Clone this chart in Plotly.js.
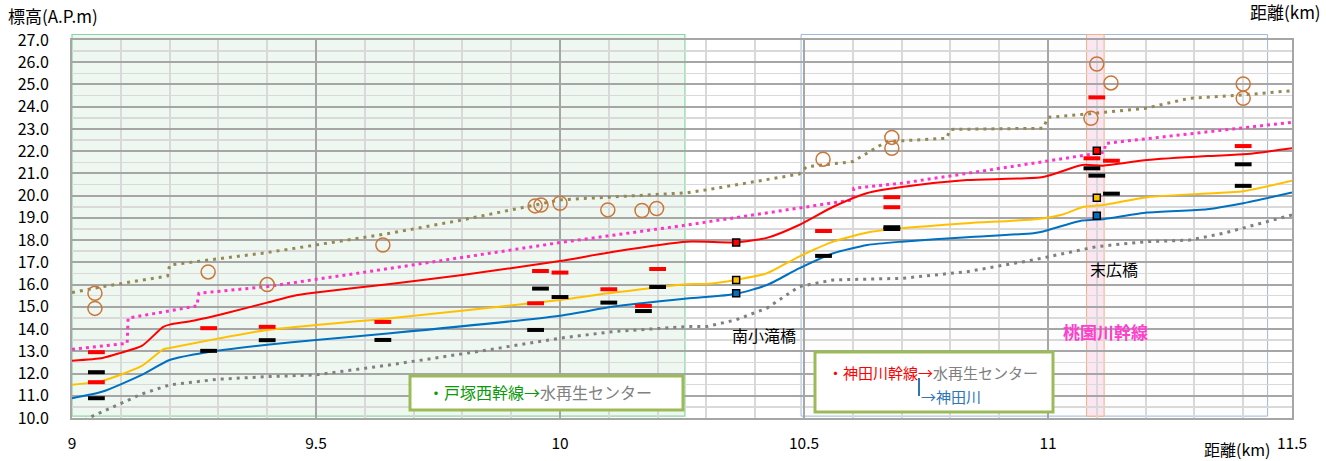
<!DOCTYPE html>
<html>
<head>
<meta charset="utf-8">
<script src="https://cdn.plot.ly/plotly-3.0.1.min.js"></script>
<style>html,body{margin:0;padding:0;background:#fff;}#chart{width:1326px;height:461px;}</style>
</head>
<body>
<div id="chart"></div>
<script>
// ---- data (distance km / elevation A.P.m) ----
const redX = [9.0, 9.063, 9.1, 9.143, 9.187, 9.2, 9.248, 9.317, 9.40, 9.453, 9.5, 9.652, 9.80, 10.0, 10.11, 10.26, 10.36, 10.424, 10.49, 10.56, 10.63, 10.70, 10.834, 10.99, 11.07, 11.113, 11.203, 11.326, 11.408, 11.5];
const redY = [12.58, 12.7, 12.93, 13.24, 14.1, 14.2, 14.37, 14.72, 15.19, 15.49, 15.64, 16.03, 16.43, 17.06, 17.48, 17.93, 17.9, 18.1, 18.68, 19.5, 20.12, 20.39, 20.7, 20.84, 21.38, 21.35, 21.6, 21.78, 21.87, 22.13];

const yellowX = [9.0, 9.063, 9.143, 9.187, 9.2, 9.40, 9.652, 10.0, 10.11, 10.26, 10.30, 10.36, 10.424, 10.49, 10.56, 10.63, 10.70, 10.834, 10.98, 11.03, 11.07, 11.113, 11.203, 11.326, 11.40, 11.5];
const yellowY = [11.49, 11.68, 12.34, 13.09, 13.15, 13.96, 14.49, 15.31, 15.64, 16.02, 16.03, 16.21, 16.51, 17.26, 17.93, 18.34, 18.53, 18.76, 18.95, 19.15, 19.48, 19.58, 19.93, 20.1, 20.2, 20.67];

const blueX = [9.0, 9.063, 9.143, 9.2, 9.277, 9.40, 9.5, 9.652, 10.0, 10.11, 10.26, 10.36, 10.424, 10.49, 10.56, 10.63, 10.70, 10.834, 10.97, 10.99, 11.07, 11.113, 11.203, 11.326, 11.40, 11.5];
const blueY = [10.89, 11.19, 11.94, 12.61, 12.96, 13.29, 13.51, 13.81, 14.6, 15.01, 15.37, 15.58, 15.98, 16.73, 17.41, 17.78, 17.93, 18.13, 18.31, 18.39, 18.88, 18.94, 19.24, 19.39, 19.66, 20.14];

const pinkX = [9.0, 9.113, 9.115, 9.256, 9.26, 9.40, 9.652, 10.0, 10.26, 10.5, 10.6, 10.602, 10.70, 10.834, 10.97, 11.115, 11.118, 11.3, 11.5];
const pinkY = [13.09, 13.36, 14.49, 15.04, 15.61, 15.91, 16.73, 17.89, 18.68, 19.5, 19.81, 20.33, 20.56, 21.0, 21.46, 21.95, 22.35, 22.8, 23.3];

const oliveX = [9.0, 9.063, 9.196, 9.2, 9.40, 9.5, 9.652, 9.80, 10.0, 10.26, 10.30, 10.49, 10.505, 10.6, 10.669, 10.792, 10.80, 10.99, 11.0, 11.08, 11.2, 11.29, 11.4, 11.5];
const oliveY = [15.64, 15.91, 16.39, 16.88, 17.44, 17.78, 18.31, 18.91, 19.81, 20.13, 20.26, 20.97, 21.3, 21.53, 22.43, 22.58, 22.98, 23.03, 23.52, 23.67, 23.93, 24.38, 24.53, 24.72];

const greyX = [9.025, 9.04, 9.143, 9.2, 9.297, 9.40, 9.5, 9.652, 9.84, 10.0, 10.11, 10.26, 10.30, 10.36, 10.424, 10.49, 10.56, 10.70, 10.834, 10.97, 11.1, 11.2, 11.29, 11.36, 11.5];
const greyY = [9.9, 10.06, 11.08, 11.49, 11.74, 11.86, 11.94, 12.39, 13.02, 13.59, 13.89, 14.11, 14.11, 14.41, 14.94, 15.91, 16.21, 16.28, 16.58, 17.11, 17.71, 17.93, 18.0, 18.31, 19.13];

const circleX = [9.047, 9.047, 9.279, 9.40, 9.637, 9.949, 9.961, 10.0, 10.098, 10.168, 10.198, 10.539, 10.68, 10.68, 11.088, 11.1, 11.129, 11.4, 11.4];
const circleY = [15.61, 14.93, 16.57, 16.0, 17.78, 19.54, 19.58, 19.66, 19.36, 19.33, 19.42, 21.64, 22.62, 22.13, 23.48, 25.92, 25.07, 25.02, 24.38];

const redBarX = [9.05, 9.05, 9.28, 9.40, 9.637, 9.96, 10.0, 9.95, 10.1, 10.171, 10.2, 10.54, 10.68, 10.68, 11.1, 11.09, 11.13, 11.4];
const redBarY = [12.96, 11.61, 14.04, 14.10, 14.32, 16.61, 16.54, 15.16, 15.79, 15.04, 16.70, 18.41, 19.93, 19.48, 24.42, 21.68, 21.57, 22.23];

const blackBarX = [9.05, 9.05, 9.28, 9.40, 9.637, 9.96, 10.0, 9.95, 10.1, 10.171, 10.2, 10.54, 10.68, 10.68, 11.09, 11.1, 11.13, 11.4, 11.4];
const blackBarY = [12.06, 10.89, 13.02, 13.50, 13.51, 15.82, 15.44, 13.96, 15.19, 14.81, 15.89, 17.29, 18.50, 18.58, 21.23, 20.90, 20.09, 21.41, 20.44];

const sqRedX = [10.361, 11.1];    const sqRedY = [17.89, 22.02];
const sqYellowX = [10.361, 11.1]; const sqYellowY = [16.21, 19.91];
const sqBlueX = [10.361, 11.1];   const sqBlueY = [15.61, 19.1];

const xTickVals = [9, 9.5, 10, 10.5, 11, 11.5];
const xTickText = ['9', '9.5', '10', '10.5', '11', '11.5'];

// ---- styling ----
const FONT = 'Noto Sans CJK JP, Noto Sans, sans-serif';
const X0 = 9, X1 = 11.5;
const px = v => (v - X0) / (X1 - X0);   // data x -> paper x

function lineTrace(x, y, color, width, dash, shape) {
  return {x, y, type: 'scatter', mode: 'lines', hoverinfo: 'skip',
    line: {color, width, dash: dash || 'solid', shape: shape || 'linear', smoothing: 0.6}};
}
const dots = '3px,5px';
const traces = [
  lineTrace(greyX, greyY, '#808080', 3, dots),
  lineTrace(oliveX, oliveY, '#948A54', 3, dots),
  lineTrace(pinkX, pinkY, '#FF33CC', 3, '3px,4px'),
  lineTrace(blueX, blueY, '#0070C0', 2, null, 'spline'),
  lineTrace(yellowX, yellowY, '#FFC000', 2, null, 'spline'),
  lineTrace(redX, redY, '#FF0000', 2, null, 'spline'),
  {x: circleX, y: circleY, type: 'scatter', mode: 'markers', hoverinfo: 'skip',
    marker: {symbol: 'circle-open', size: 14, color: '#C8773A', line: {width: 1.5, color: '#C8773A'}}},
  {x: redBarX, y: redBarY, type: 'scatter', mode: 'markers', hoverinfo: 'skip',
    marker: {symbol: 'line-ew', size: 12, line: {width: 4, color: '#FF0000'}}},
  {x: blackBarX, y: blackBarY, type: 'scatter', mode: 'markers', hoverinfo: 'skip',
    marker: {symbol: 'line-ew', size: 12, line: {width: 4, color: '#000000'}}},
  {x: sqRedX, y: sqRedY, type: 'scatter', mode: 'markers', hoverinfo: 'skip',
    marker: {symbol: 'square', size: 7, color: '#FF0000', line: {width: 1.5, color: '#000'}}},
  {x: sqYellowX, y: sqYellowY, type: 'scatter', mode: 'markers', hoverinfo: 'skip',
    marker: {symbol: 'square', size: 7, color: '#FFC000', line: {width: 1.5, color: '#000'}}},
  {x: sqBlueX, y: sqBlueY, type: 'scatter', mode: 'markers', hoverinfo: 'skip',
    marker: {symbol: 'square', size: 7, color: '#0070C0', line: {width: 1.5, color: '#000'}}}
];

const topP = (418 - 34.5) / 378;
const shapes = [
  {type: 'rect', xref: 'paper', yref: 'paper', x0: px(9.0), x1: px(10.256), y0: 0.005, y1: topP,
    fillcolor: '#EEF8F1', line: {color: '#8AD6A2', width: 1.2}, layer: 'below'},
  {type: 'rect', xref: 'paper', yref: 'paper', x0: px(10.494), x1: px(11.45), y0: 0.005, y1: topP,
    fillcolor: '#FDFDFE', line: {color: '#9DB9DC', width: 1}, layer: 'below'},
  {type: 'rect', xref: 'paper', yref: 'paper', x0: px(11.079), x1: px(11.115), y0: 0.005, y1: topP,
    fillcolor: '#FBE6F1', line: {color: '#F4B183', width: 1}, layer: 'below'},
  // legend boxes
  {type: 'rect', xref: 'paper', yref: 'paper', x0: 338 / 1220, x1: 611 / 1220, y0: 8 / 378, y1: 42 / 378,
    fillcolor: '#FFFFFF', line: {color: '#9BBB59', width: 3}, layer: 'above'},
  {type: 'rect', xref: 'paper', yref: 'paper', x0: 743 / 1220, x1: 981 / 1220, y0: 6 / 378, y1: 66 / 378,
    fillcolor: '#FFFFFF', line: {color: '#9BBB59', width: 3}, layer: 'above'},
  {type: 'line', xref: 'paper', yref: 'paper', x0: 847 / 1220, x1: 847 / 1220, y0: 22 / 378, y1: 40 / 378,
    line: {color: '#2E75B6', width: 2}, layer: 'above'}
];

function ann(text, x, y, opts) {
  return Object.assign({text, x, y, xref: 'paper', yref: 'paper', showarrow: false,
    xanchor: 'center', yanchor: 'middle', font: {family: FONT, size: 16, color: '#000'}}, opts || {});
}
const annotations = [
  ann('標高(A.P.m)', (6 - 72) / 1220, (418 - 15) / 378, {xanchor: 'left', font: {family: FONT, size: 17, color: '#000'}}),
  ann('距離(km)', (1323 - 72) / 1220, (418 - 12) / 378, {xanchor: 'right', font: {family: FONT, size: 17, color: '#000'}}),
  ann('距離(km)', (1272 - 72) / 1220, (418 - 449) / 378, {xanchor: 'right', font: {family: FONT, size: 16, color: '#000'}}),
  ann('南小滝橋', (764 - 72) / 1220, (418 - 335) / 378, {font: {family: FONT, size: 16, color: '#000'}}),
  ann('末広橋', (1114 - 72) / 1220, (418 - 269) / 378, {font: {family: FONT, size: 16, color: '#000'}}),
  ann('<b>桃園川幹線</b>', (1105 - 72) / 1220, (418 - 331) / 378, {font: {family: FONT, size: 17, color: '#FF40CC'}}),
  ann('<span style="color:#0A9A0A">・戸塚西幹線→</span><span style="color:#808080">水再生センター</span>',
    (540 - 72) / 1220, (418 - 392) / 378, {font: {family: FONT, size: 16, color: '#808080'}}),
  ann('<span style="color:#FF0000">・神田川幹線→</span><span style="color:#808080">水再生センター</span>',
    (933 - 72) / 1220, (418 - 372) / 378, {font: {family: FONT, size: 15, color: '#808080'}}),
  ann('→神田川', (919 - 72) / 1220, (418 - 396) / 378, {xanchor: 'left', font: {family: FONT, size: 15, color: '#2E75B6'}})
];

const layout = {
  width: 1326, height: 461,
  margin: {l: 72, r: 34, t: 40, b: 43, pad: 0},
  paper_bgcolor: '#FFFFFF', plot_bgcolor: '#FFFFFF',
  showlegend: false, hovermode: false,
  font: {family: FONT, size: 15, color: '#000'},
  xaxis: {range: [X0, X1], tickmode: 'array', tickvals: xTickVals, ticktext: xTickText,
    showgrid: true, gridcolor: '#A6A6A6', gridwidth: 2, zeroline: false,
    showline: true, mirror: true, linecolor: '#A6A6A6', linewidth: 2,
    ticks: '', ticklabelstandoff: 10, tickfont: {family: FONT, size: 15.5, color: '#000'},
    minor: {tickmode: 'linear', tick0: 9, dtick: 0.1, showgrid: true, gridcolor: '#D9D9D9', gridwidth: 2}},
  yaxis: {range: [10, 27], tickmode: 'linear', tick0: 10, dtick: 1, tickformat: '.1f',
    showgrid: true, gridcolor: '#A6A6A6', gridwidth: 2, zeroline: false,
    showline: true, mirror: true, linecolor: '#A6A6A6', linewidth: 2,
    ticks: '', ticklabelstandoff: 18, tickfont: {family: FONT, size: 16, color: '#000'},
    minor: {tickmode: 'linear', tick0: 10, dtick: 0.5, showgrid: true, gridcolor: '#D9D9D9', gridwidth: 1.5}},
  shapes, annotations
};

Plotly.newPlot('chart', traces, layout, {staticPlot: true, displayModeBar: false});
</script>
</body>
</html>
